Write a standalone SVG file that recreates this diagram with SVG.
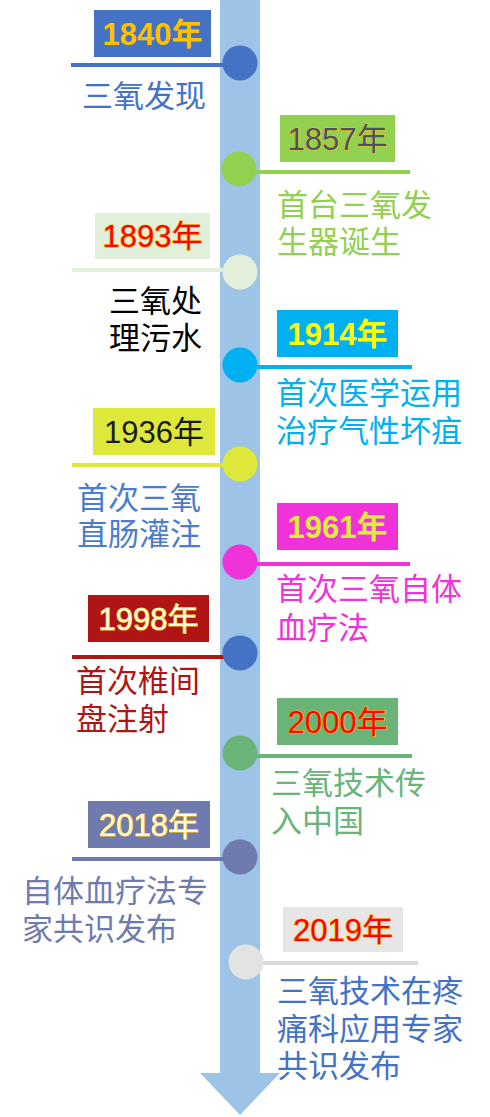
<svg xmlns="http://www.w3.org/2000/svg" width="490" height="1117" viewBox="0 0 490 1117">
<style>
.yr{font-family:"Liberation Sans","Noto Sans CJK SC",sans-serif;font-size:31px;text-anchor:middle}
.b{font-weight:bold}
.ol{stroke:#FFC000;stroke-width:1.2px;paint-order:stroke}
.lb{font-family:"Liberation Sans","Noto Sans CJK SC",sans-serif;font-size:31px}
.ln{stroke-width:4;fill:none}
</style>
<rect width="490" height="1117" fill="#FFFFFF"/>
<g id="axis">
<rect x="220" y="0" width="40" height="1074" fill="#9DC3E6"/>
<polygon points="200,1073 280,1073 240,1115" fill="#9DC3E6"/>
</g>
<g id="connectors">
<line class="ln" x1="71" y1="65" x2="228" y2="65" stroke="#4472C4"/>
<line class="ln" x1="252" y1="172" x2="410" y2="172" stroke="#92D050"/>
<line class="ln" x1="72" y1="270" x2="228" y2="270" stroke="#E2EFDA"/>
<line class="ln" x1="252" y1="367" x2="412" y2="367" stroke="#00B0F0"/>
<line class="ln" x1="72" y1="465" x2="228" y2="465" stroke="#DDE83A"/>
<line class="ln" x1="252" y1="564" x2="410" y2="564" stroke="#F033D9"/>
<line class="ln" x1="72" y1="657" x2="228" y2="657" stroke="#B01515"/>
<line class="ln" x1="252" y1="756" x2="412" y2="756" stroke="#6AB47A"/>
<line class="ln" x1="72" y1="859" x2="228" y2="859" stroke="#6F7BAE"/>
<line class="ln" x1="262" y1="963" x2="418" y2="963" stroke="#D9D9D9"/>
</g>
<g id="n1840">
<rect x="94" y="10" width="117" height="47" fill="#4472C4"/>
<text class="yr b" x="152.5" y="44.5" fill="#FFC000">1840年</text>
<circle cx="240" cy="63" r="17.5" fill="#4472C4"/>
<text class="lb" x="82" y="107" fill="#4472C4">三氧发现</text>
</g>
<g id="n1857">
<rect x="280" y="115" width="115" height="47" fill="#92D050"/>
<text class="yr ol" x="337.5" y="149.5" fill="#44546A">1857年</text>
<circle cx="239" cy="169" r="17.5" fill="#92D050"/>
<text class="lb" fill="#92D050"><tspan x="277" y="216">首台三氧发</tspan><tspan x="277" y="253">生器诞生</tspan></text>
</g>
<g id="n1893">
<rect x="95" y="213" width="115" height="46" fill="#E2EFDA"/>
<text class="yr ol" x="152.5" y="247" fill="#FF0000">1893年</text>
<circle cx="240" cy="272" r="17.5" fill="#E2EFDA"/>
<text class="lb" fill="#000000"><tspan x="109" y="312">三氧处</tspan><tspan x="109" y="349">理污水</tspan></text>
</g>
<g id="n1914">
<rect x="277" y="310" width="121" height="47" fill="#00B0F0"/>
<text class="yr b" x="337.5" y="344.5" fill="#FFFF00">1914年</text>
<circle cx="240" cy="365" r="17.5" fill="#00B0F0"/>
<text class="lb" fill="#00B0F0"><tspan x="276" y="404">首次医学运用</tspan><tspan x="276" y="442">治疗气性坏疽</tspan></text>
</g>
<g id="n1936">
<rect x="93" y="408" width="122" height="47" fill="#DDE83A"/>
<text class="yr" x="154" y="442.5" fill="#1A1A1A">1936年</text>
<circle cx="240" cy="464" r="17.5" fill="#DDE83A"/>
<text class="lb" fill="#4A7CD0"><tspan x="77" y="509">首次三氧</tspan><tspan x="77" y="545">直肠灌注</tspan></text>
</g>
<g id="n1961">
<rect x="277" y="503" width="121" height="47" fill="#F033D9"/>
<text class="yr b" x="337.5" y="537.5" fill="#DDEB3A">1961年</text>
<circle cx="240" cy="562" r="17.5" fill="#F033D9"/>
<text class="lb" fill="#F033D9"><tspan x="276" y="600">首次三氧自体</tspan><tspan x="276" y="639">血疗法</tspan></text>
</g>
<g id="n1998">
<rect x="88" y="595" width="121" height="47" fill="#B01515"/>
<text class="yr ol" x="148.5" y="629.5" fill="#FFFBE0">1998年</text>
<circle cx="240" cy="653" r="17.5" fill="#4472C4"/>
<text class="lb" fill="#B01515"><tspan x="76" y="692">首次椎间</tspan><tspan x="76" y="730">盘注射</tspan></text>
</g>
<g id="n2000">
<rect x="277" y="698" width="121" height="47" fill="#6AB47A"/>
<text class="yr ol" x="337.5" y="732.5" fill="#FF0000">2000年</text>
<circle cx="240" cy="753" r="17.5" fill="#6AB47A"/>
<text class="lb" fill="#6AB47A"><tspan x="271" y="794">三氧技术传</tspan><tspan x="271" y="832">入中国</tspan></text>
</g>
<g id="n2018">
<rect x="88" y="801" width="122" height="47" fill="#6F7BAE"/>
<text class="yr ol" x="149" y="835.5" fill="#FFF8E0">2018年</text>
<circle cx="240" cy="857" r="17.5" fill="#6F7BAE"/>
<text class="lb" fill="#6F7BAE"><tspan x="22" y="902">自体血疗法专</tspan><tspan x="22" y="940">家共识发布</tspan></text>
</g>
<g id="n2019">
<rect x="283" y="907" width="120" height="45" fill="#E6E6E6"/>
<text class="yr ol" x="343" y="940.5" fill="#FF0000">2019年</text>
<circle cx="246" cy="962" r="17.5" fill="#E3E3E3"/>
<text class="lb" fill="#4472C4"><tspan x="277" y="1002">三氧技术在疼</tspan><tspan x="277" y="1040">痛科应用专家</tspan><tspan x="277" y="1077">共识发布</tspan></text>
</g>
</svg>
